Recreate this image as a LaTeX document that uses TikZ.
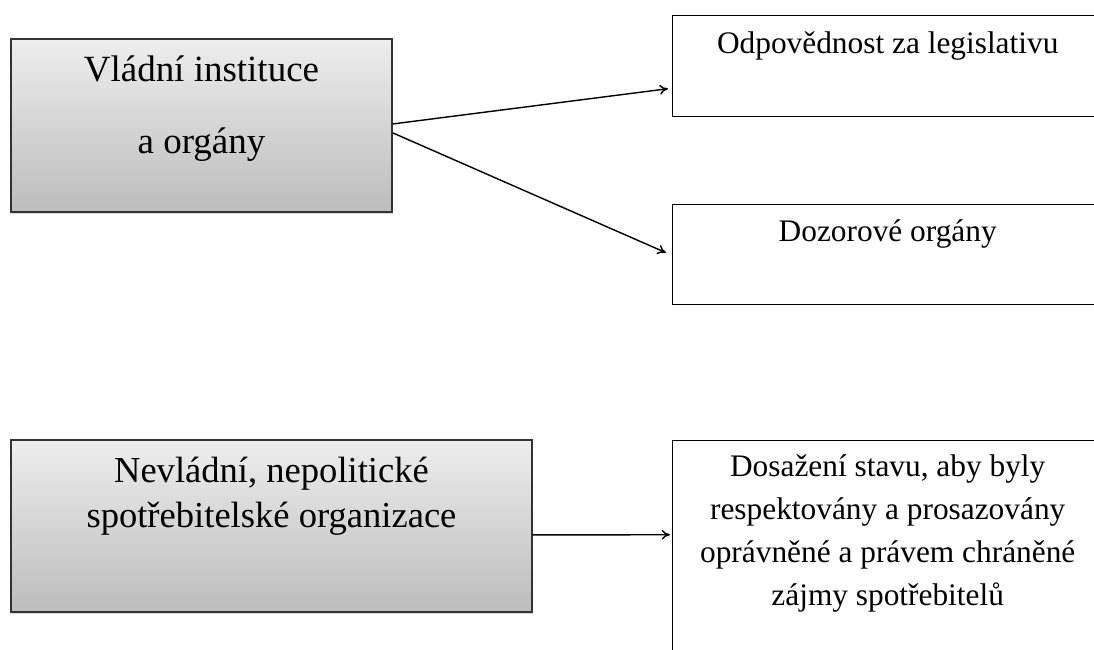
\documentclass[tikz,border=0pt]{standalone}
\usepackage{fontspec}
\setmainfont{Liberation Serif}
\usepackage{tikz}
\usetikzlibrary{arrows.meta, positioning, calc, shadows}

\begin{document}
\begin{tikzpicture}[
    x=0.025cm, y=-0.025cm,
    govbox/.style={
        rectangle,
        draw=black!80,
        line width=1.3pt,
        top color=black!7,
        bottom color=black!26,
        drop shadow={shadow xshift=0.8pt, shadow yshift=-1.2pt, opacity=0.3},
        anchor=north west,
        inner sep=0pt
    },
    govtext/.style={
        anchor=north,
        align=center,
        inner sep=0pt,
        font=\fontsize{26.3}{51}\selectfont
    },
    taskbox/.style={
        rectangle,
        draw=black,
        line width=1pt,
        fill=white,
        anchor=north west,
        inner sep=0pt,
        minimum width=11.5cm
    },
    tasktext/.style={
        anchor=north,
        align=center,
        inner sep=0pt,
        xshift=-10.7pt,
        font=\fontsize{22.3}{30.6}\selectfont
    },
    arrow/.style={-{To[length=6pt, width=7pt]}, line width=1pt}
]
\useasboundingbox (0,0) rectangle (1094,650);

\node[govbox, minimum width=9.525cm, minimum height=4.325cm,
      label={[govtext, yshift=-12.8pt]north:Vládní instituce\\a orgány}] (vladni) at (10,38) {};

\node[govbox, minimum width=13.025cm, minimum height=4.3cm,
      label={[govtext, yshift=-12.8pt, font=\fontsize{26}{32}\selectfont]north:Nevládní, nepolitické\\spotřebitelské organizace}] (nevladni) at (10,439) {};

\node[taskbox, minimum height=2.525cm,
      label={[tasktext, yshift=-11.8pt]north:Odpovědnost za legislativu}] (legislativa) at (672,15) {};

\node[taskbox, minimum height=2.5cm,
      label={[tasktext, yshift=-10.7pt]north:Dozorové orgány}] (dozor) at (672,204) {};

\node[taskbox, minimum height=6.5cm,
      label={[tasktext, yshift=-10pt]north:Dosažení stavu, aby byly\\respektovány a prosazovány\\oprávněné a právem chráněné\\zájmy spotřebitelů}] (zajmy) at (672,440) {};

\draw[arrow] ($(vladni.east)+(0,-1.5)$) -- ($(legislativa.west)+(-4,22.5)$);
\draw[arrow] ($(vladni.east)+(0,7.5)$) -- ($(dozor.west)+(-6,-2)$);
\draw[arrow] ($(nevladni.east)+(0,9)$) -- ($(zajmy.west)+(-2,-36)$);

\end{tikzpicture}
\end{document}
